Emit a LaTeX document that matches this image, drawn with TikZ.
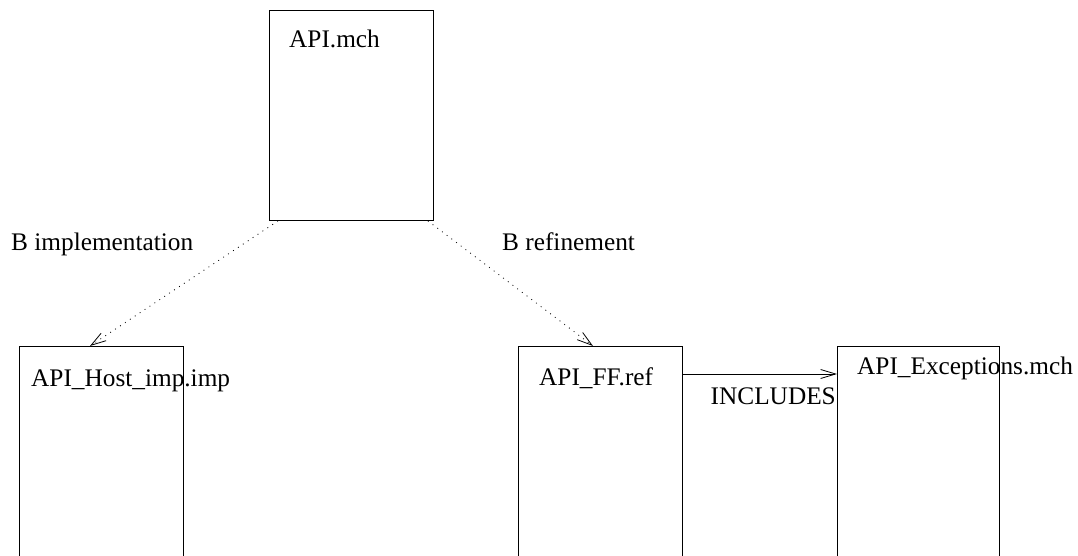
\documentclass[tikz,border=0pt]{standalone}
\usepackage{fontspec}
\setmainfont{Liberation Serif}
\usetikzlibrary{arrows.meta,positioning,calc}
\definecolor{ink}{RGB}{0,0,0}

\begin{document}
\begin{tikzpicture}[x=1pt,y=-1pt,
  machine/.style={rectangle,draw=ink,line width=0.9pt,inner sep=0pt,minimum width=164pt,anchor=north west},
  title/.style={anchor=base west,inner sep=0pt,font=\fontsize{25.3}{30}\selectfont},
  dotarrow/.style={-{Straight Barb[length=15pt,width=9pt]},line width=0.8pt,dash pattern=on 0.9pt off 5pt},
  plainarrow/.style={-{Straight Barb[length=15pt,width=9pt]},line width=0.8pt}
]
\clip (0,0) rectangle (1078,556);
\node[machine,minimum height=210pt] (api) at (269,10) {};
\node[machine,minimum height=230pt] (host) at (19,346) {};
\node[machine,minimum height=230pt] (ff) at (518,346) {};
\node[machine,minimum height=230pt,minimum width=162pt] (exc) at (837,346) {};
\node[title] (apit) at ($(api.north west)+(20,38)$) {API.mch};
\node[title] (hostt) at ($(host.north west)+(12,40)$) {API\_Host\_imp.imp};
\node[title] (fft) at ($(ff.north west)+(21,39)$) {API\_FF.ref};
\node[title] (exct) at ($(exc.north west)+(20,28)$) {API\_Exceptions.mch};
\draw[dotarrow] ($(api.south west)+(9,0)$) -- ($(host.north west)+(71,0)$);
\draw[dotarrow] ($(api.south east)+(-6,0)$) -- ($(ff.north west)+(75,0)$);
\draw[plainarrow] ($(ff.north east)+(0,28)$) -- ($(exc.north west)+(0,28)$);
\node[title] (impl) at (11,250) {B implementation};
\node[title] (refi) at (502,250) {B refinement};
\node[title,anchor=base east] (incl) at ($(exc.north west)+(-1,58)$) {INCLUDES};
\end{tikzpicture}
\end{document}
